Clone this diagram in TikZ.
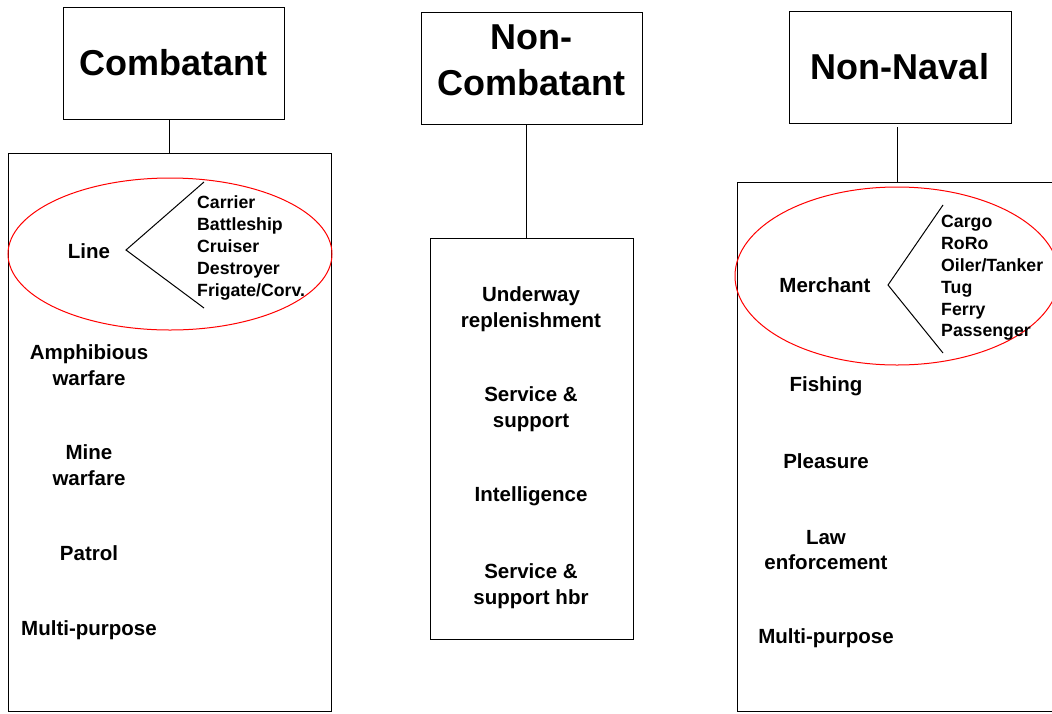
\documentclass[tikz,border=0pt]{standalone}
\usepackage{fontspec}
\setmainfont{Liberation Sans}
\usetikzlibrary{shapes.geometric}
\begin{document}
\begin{tikzpicture}[x=1pt,y=-1pt,
  box/.style={draw=black,line width=1pt,inner sep=0pt,fill=none},
  head/.style={box,font=\bfseries\fontsize{36}{46}\selectfont,align=center},
  item/.style={inner sep=0pt,font=\bfseries\fontsize{20.5}{25.5}\selectfont,align=center},
  sub/.style={inner sep=0pt,font=\bfseries\fontsize{17.7}{21.8}\selectfont,align=left,anchor=west},
  oval/.style={draw=red,line width=1pt,ellipse,inner sep=0pt},
  conn/.style={draw=black,line width=1pt}]
\clip (0,0) rectangle (1052,713);
\fill[white] (0,0) rectangle (1052,713);
% headers
\node[box,minimum width=221,minimum height=112] (h1) at (173.5,63) {};
\node[head,draw=none] (h1t) at (h1) {Combatant};
\node[box,minimum width=221,minimum height=112] (h2) at (531.5,68) {};
\node[head,draw=none] (h2t) at (531.5,60) {Non-\\Combatant};
\node[box,minimum width=222,minimum height=112] (h3) at (900,67) {};
\node[head,draw=none] (h3t) at (h3) {Non-Naval};
% bodies
\node[box,minimum width=323,minimum height=558] (b1) at (169.5,432) {};
\node[box,minimum width=203,minimum height=401] (b2) at (531.5,438.5) {};
\node[box,minimum width=325,minimum height=529] (b3) at (899.5,446.5) {};
% connectors
\draw[conn] (b1.north) -- (b1.north |- h1.south);
\coordinate (c2) at ([xshift=-5.5]b2.north);
\draw[conn] (c2) -- (c2 |- h2.south);
\coordinate (c3) at ([xshift=-2.5]b3.north);
\coordinate (c3t) at (897,127);
\draw[conn] (c3) -- (c3t);
% Combatant
\node[oval,minimum width=324,minimum height=152] (e1) at (170,254) {};
\node[item] (line) at (89,251) {Line};
\coordinate (v1) at (126,250);
\coordinate (t1) at (204,182);
\coordinate (d1) at (204,308);
\draw[conn] (t1) -- (v1) -- (d1);
\node[sub] (l1) at (197,248) {Carrier\\Battleship\\Cruiser\\Destroyer\\Frigate/Corv.};
\node[item] (amph) at (89,365) {Amphibious\\warfare};
\node[item] (mine) at (89,465) {Mine\\warfare};
\node[item] (patrol) at (89,553) {Patrol};
\node[item] (multi1) at (89,630) {Multi-purpose};
% Non-Combatant
\node[item] (uw) at (531,309) {Underway\\replenishment};
\node[item] (ss) at (531,409) {Service \&\\support};
\node[item] (intel) at (531,496) {Intelligence};
\node[item] (ssh) at (531,586) {Service \&\\support hbr};
% Non-Naval
\node[oval,minimum width=324,minimum height=178] (e3) at (897,276) {};
\node[item] (merch) at (825,285) {Merchant};
\coordinate (v3) at (888,285);
\coordinate (t3) at (943,205);
\coordinate (d3) at (943,353);
\draw[conn] (t3) -- (v3) -- (d3);
\node[sub] (l3) at (941,278) {Cargo\\RoRo\\Oiler/Tanker\\Tug\\Ferry\\Passenger};
\node[item] (fish) at (826,386) {Fishing};
\node[item] (pleas) at (826,461) {Pleasure};
\node[item] (law) at (826,550) {Law\\enforcement};
\node[item] (multi3) at (826,638) {Multi-purpose};
\end{tikzpicture}
\end{document}
